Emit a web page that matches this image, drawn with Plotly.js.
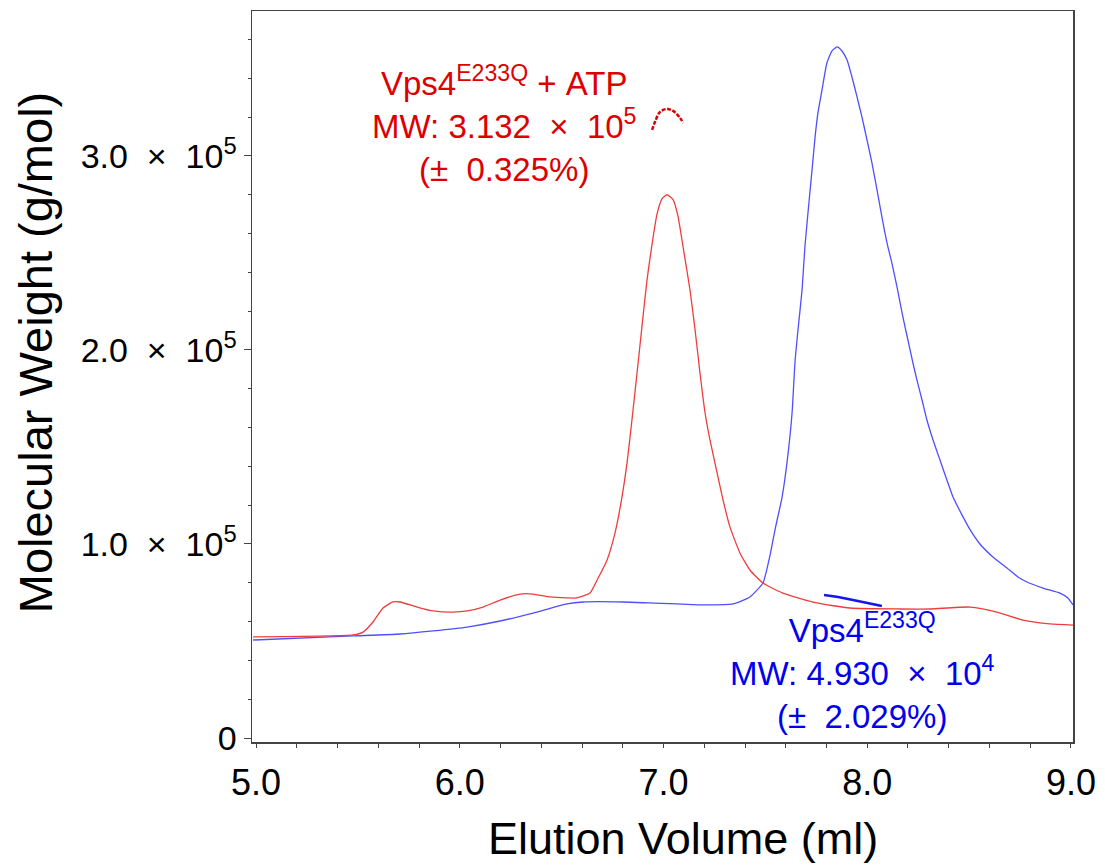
<!DOCTYPE html>
<html>
<head>
<meta charset="utf-8">
<script src="https://cdn.plot.ly/plotly-3.0.1.min.js"></script>
<style>html,body{margin:0;padding:0;background:#fff;}#chart{width:1105px;height:865px;}</style>
</head>
<body>
<div id="chart"></div>
<script>
// Elution volume (ml) and molecular weight (units of 10^5 g/mol)
const redX = [4.985,5.476,5.525,5.574,5.623,5.672,5.707,5.790,5.869,5.967,6.036,6.114,6.198,6.296,6.360,6.443,6.526,6.575,6.639,6.674,6.723,6.762,6.796,6.821,6.845,6.870,6.894,6.919,6.943,6.968,6.993,7.017,7.047,7.071,7.096,7.130,7.155,7.179,7.204,7.228,7.263,7.292,7.326,7.375,7.424,7.488,7.586,7.753,7.915,8.161,8.308,8.504,8.637,8.764,8.897,9.010];
const redY = [0.521,0.531,0.546,0.598,0.670,0.701,0.701,0.675,0.655,0.649,0.655,0.675,0.711,0.742,0.742,0.727,0.722,0.722,0.747,0.814,0.918,1.057,1.242,1.418,1.639,1.881,2.119,2.361,2.540,2.700,2.780,2.800,2.775,2.690,2.531,2.309,2.103,1.881,1.675,1.536,1.366,1.227,1.088,0.954,0.866,0.799,0.747,0.696,0.670,0.665,0.665,0.675,0.649,0.608,0.588,0.582];

const blueX = [4.985,5.476,5.707,5.869,6.036,6.198,6.360,6.526,6.605,6.801,6.934,7.179,7.341,7.424,7.488,7.523,7.547,7.582,7.606,7.631,7.645,7.660,7.680,7.694,7.709,7.729,7.744,7.758,7.778,7.802,7.827,7.852,7.876,7.901,7.925,7.950,7.974,7.999,8.023,8.048,8.072,8.097,8.121,8.146,8.175,8.200,8.225,8.244,8.269,8.293,8.323,8.357,8.391,8.421,8.465,8.504,8.553,8.617,8.686,8.740,8.784,8.863,8.946,8.985,9.010];
const blueY = [0.505,0.526,0.536,0.552,0.572,0.603,0.644,0.691,0.701,0.701,0.696,0.686,0.691,0.727,0.799,0.943,1.072,1.242,1.418,1.675,1.933,2.103,2.309,2.531,2.706,2.928,3.098,3.222,3.340,3.479,3.541,3.562,3.541,3.495,3.407,3.304,3.201,3.082,2.964,2.825,2.686,2.552,2.448,2.325,2.170,2.050,1.930,1.845,1.742,1.639,1.536,1.433,1.330,1.242,1.150,1.075,1.000,0.933,0.876,0.830,0.804,0.773,0.747,0.722,0.686];

// Calculated MW across peaks
const redMwX = [6.944,6.958,6.983,7.017,7.047,7.081,7.096];
const redMwY = [3.134,3.175,3.227,3.242,3.232,3.196,3.170];
const blueMwX = [7.788,7.857,7.930,8.004,8.072];
const blueMwY = [0.737,0.727,0.711,0.696,0.680];

const yTickVals = [0,1,2,3];
const NB = '\u00a0';
const yTickText = ['0', '1.0'+NB+NB+'×'+NB+NB+'10<sup>5</sup>', '2.0'+NB+NB+'×'+NB+NB+'10<sup>5</sup>', '3.0'+NB+NB+'×'+NB+NB+'10<sup>5</sup>'];
const xTickVals = [5,6,7,8,9];
const xTickText = ['5.0','6.0','7.0','8.0','9.0'];

const redLabel = 'Vps4<sup>E233Q</sup>'+NB+'+'+NB+'ATP<br>MW:'+NB+'3.132'+NB+NB+'×'+NB+NB+'10<sup>5</sup><br>(±'+NB+NB+'0.325%)';
const blueLabel = 'Vps4<sup>E233Q</sup><br>MW:'+NB+'4.930'+NB+NB+'×'+NB+NB+'10<sup>4</sup><br>(±'+NB+NB+'2.029%)';

const FONT = 'Liberation Sans, Arial, Helvetica, sans-serif';

const traces = [
  {x: blueX, y: blueY, type:'scatter', mode:'lines', line:{color:'#4f4fff', width:1.3, shape:'spline', smoothing:0.5}, hoverinfo:'skip', showlegend:false},
  {x: redX, y: redY, type:'scatter', mode:'lines', line:{color:'#f03c3c', width:1.3, shape:'spline', smoothing:0.5}, hoverinfo:'skip', showlegend:false},
  {x: blueMwX, y: blueMwY, type:'scatter', mode:'lines', line:{color:'#1414ee', width:2.5}, showlegend:false},
  {x: redMwX, y: redMwY, type:'scatter', mode:'lines', line:{color:'#dd0000', width:2.5, dash:'4px,1.5px', shape:'spline'}, showlegend:false}
];

const layout = {
  width: 1105, height: 865,
  margin: {l:252, r:32, t:11, b:123},
  paper_bgcolor:'#fff', plot_bgcolor:'#fff',
  font: {family: FONT, color:'#000'},
  xaxis: {
    range:[4.98, 9.01], showgrid:false, zeroline:false,
    showline:true, linecolor:'#444', linewidth:1.5, mirror:true,
    ticks:'outside', ticklen:4, tickcolor:'#444', tickwidth:1,
    tickmode:'array', tickvals:xTickVals, ticktext:xTickText,
    tickfont:{size:36, family:FONT, color:'#000'},
    minor:{tickmode:'linear', tick0:5, dtick:0.2, ticks:'outside', ticklen:4, tickcolor:'#444', tickwidth:1},
    ticklabelstandoff: 4
  },
  yaxis: {
    range:[-0.0206, 3.747], showgrid:false, zeroline:false,
    showline:true, linecolor:'#444', linewidth:1.5, mirror:true,
    ticks:'outside', ticklen:7, tickcolor:'#444', tickwidth:1,
    tickmode:'array', tickvals:yTickVals, ticktext:yTickText,
    tickfont:{size:34, family:FONT, color:'#000'},
    minor:{tickmode:'linear', tick0:0, dtick:0.2, ticks:'outside', ticklen:3, tickcolor:'#444', tickwidth:1},
    ticklabelstandoff: 0
  },
  annotations: [
    {xref:'paper', yref:'paper', x:0.525, y:-0.094, xanchor:'center', yanchor:'top', showarrow:false,
     text:'Elution Volume (ml)', font:{size:45, family:FONT, color:'#000'}},
    {xref:'paper', yref:'paper', x:-0.264, y:0.5335, xanchor:'center', yanchor:'middle', showarrow:false, textangle:-90,
     text:'Molecular Weight (g/mol)', font:{size:47, family:FONT, color:'#000'}},
    {xref:'paper', yref:'paper', x:(504-252)/821, y:(742-124)/731, xanchor:'center', yanchor:'middle', showarrow:false,
     text: redLabel, align:'center', font:{size:33, family:FONT, color:'#dd0000'}},
    {xref:'paper', yref:'paper', x:(862-252)/821, y:(742-671)/731, xanchor:'center', yanchor:'middle', showarrow:false,
     text: blueLabel, align:'center', font:{size:33, family:FONT, color:'#0000ee'}}
  ]
};

Plotly.newPlot('chart', traces, layout, {staticPlot:true, displayModeBar:false});
</script>
</body>
</html>
